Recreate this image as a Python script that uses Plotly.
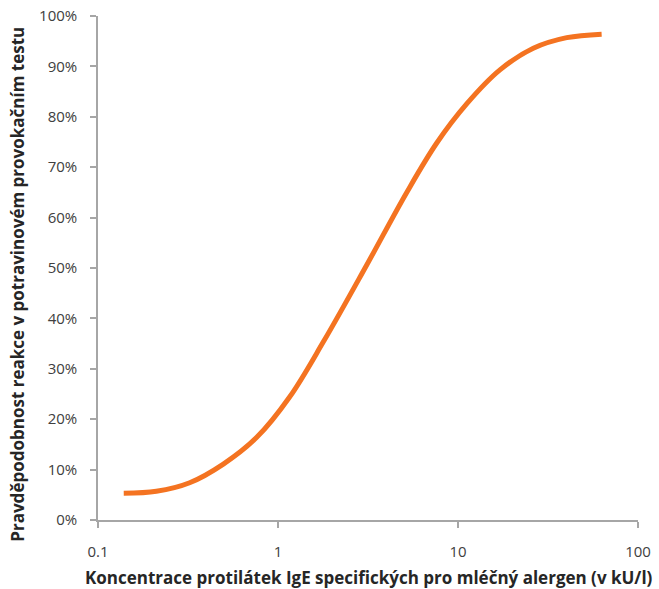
import plotly.graph_objects as go

# Specific IgE concentration (kU/l) and probability of reaction in the challenge test
ige_kul = [0.139, 0.211, 0.323, 0.497, 0.762, 1.16, 1.79, 3.10, 5.19,
           7.62, 11.2, 17.1, 26.2, 40.2, 62.8]
probability = [0.053, 0.057, 0.074, 0.111, 0.164, 0.244, 0.354, 0.505, 0.650,
               0.748, 0.826, 0.893, 0.936, 0.957, 0.964]

x_tickvals = [0.1, 1, 10, 100]
x_ticktext = ["0.1", "1", "10", "100"]

font_family = "Open Sans, Noto Sans, DejaVu Sans, sans-serif"
axis_color = "#A6A6A6"
text_color = "#404040"

fig = go.Figure()
fig.add_trace(go.Scatter(
    x=ige_kul,
    y=probability,
    mode="lines",
    line=dict(color="#F47321", width=5, shape="spline", smoothing=1.0),
    hoverinfo="x+y",
    showlegend=False,
))

fig.update_layout(
    width=659,
    height=589,
    margin=dict(l=98, r=21, t=16, b=69, autoexpand=False),
    paper_bgcolor="white",
    plot_bgcolor="white",
    font=dict(family=font_family, size=15, color=text_color),
    xaxis=dict(
        type="log",
        range=[-1, 2],
        tickvals=x_tickvals,
        ticktext=x_ticktext,
        automargin=False,
        showgrid=False,
        zeroline=False,
        showline=True,
        linecolor=axis_color,
        linewidth=1.5,
        ticks="outside",
        ticklen=6,
        tickwidth=1.5,
        tickcolor=axis_color,
        ticklabelstandoff=11,
        tickfont=dict(size=15, color=text_color),
    ),
    yaxis=dict(
        range=[0, 1],
        dtick=0.1,
        tick0=0,
        tickformat=".0%",
        automargin=False,
        showgrid=False,
        zeroline=False,
        showline=True,
        linecolor=axis_color,
        linewidth=1.5,
        ticks="outside",
        ticklen=6,
        tickwidth=1.5,
        tickcolor=axis_color,
        ticklabelstandoff=10,
        tickfont=dict(size=15, color=text_color),
    ),
    annotations=[
        dict(
            text="<b>Koncentrace protilátek IgE specifických pro mléčný alergen (v kU/l)</b>",
            xref="paper", yref="paper",
            x=0.502, y=-0.114,
            xanchor="center", yanchor="middle",
            showarrow=False,
            font=dict(size=17, color="#262626", family=font_family),
        ),
        dict(
            text="<b>Pravděpodobnost reakce v potravinovém provokačním testu</b>",
            xref="paper", yref="paper",
            x=-0.148, y=0.467,
            xanchor="center", yanchor="middle",
            textangle=-90,
            showarrow=False,
            font=dict(size=17, color="#262626", family=font_family),
        ),
    ],
)

fig.write_html("out.html")
